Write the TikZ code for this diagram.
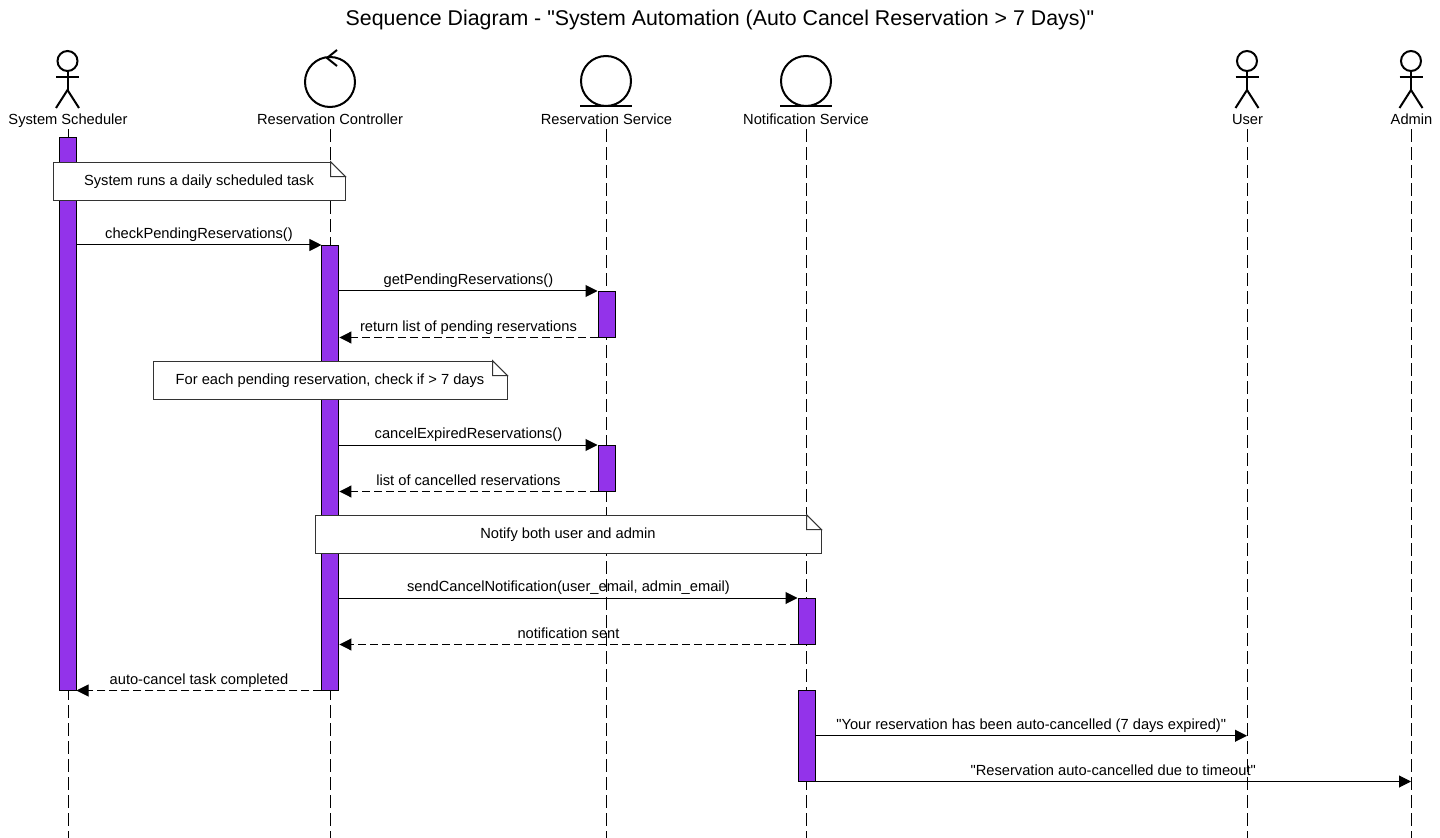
\documentclass[tikz,border=0pt]{standalone}
\usepackage{fontspec}
\setmainfont{Liberation Sans}[Ligatures=TeXOff]
\usetikzlibrary{arrows.meta}
\definecolor{activefill}{RGB}{147,51,234}
\tikzset{
	every node/.style = {font=\fontsize{11}{13}\selectfont},
	icon/.style = {line width=1.5pt},
	head/.style = {anchor=center, inner sep=0pt, text height=9.5pt, text depth=2pt, minimum height=13.5pt},
	lifeline/.style = {line width=.75pt, dash pattern=on 9.5pt off 4pt},
	active/.style = {draw, fill=activefill, line width=.75pt, minimum width=12.75pt, inner sep=0pt},
	note/.style = {draw=black!80, fill=white, line width=.75pt, inner sep=0pt, text height=8pt, text depth=2pt, minimum height=28.5pt},
	fold/.style = {draw=black!80, fill=white, line width=.75pt},
	msg/.style = {line width=.75pt, -{Triangle[length=9pt, width=9pt]}},
	back/.style = {msg, dash pattern=on 6pt off 3pt},
	say/.style = {above=4.5pt, inner sep=0pt, text depth=0pt},
	actor/.pic = {
		\draw[icon] (0,-47) circle (10);
		\draw[icon] (0,-37) -- (0,-18) (-11.5,-31) -- (11.5,-31);
		\draw[icon] (-11.5,0) -- (0,-18) -- (11.5,0);
	},
	control/.pic = {
		\draw[icon] (0,0) circle (25);
		\draw[icon] (7,-32) -- (-3,-24) -- (7,-16);
	},
	entity/.pic = {
		\draw[icon] (0,0) circle (25);
		\draw[icon] (-26,25.5) -- (26,25.5);
	}
}
\begin{document}
\begin{tikzpicture}[x = .75pt, y = -.75pt]
	\useasboundingbox (0,0) rectangle (1440,838);
	\node[text height=12pt, text depth=3pt, inner sep=0pt] (title) at (720,20) {\fontsize{16}{18}\selectfont Sequence Diagram - "System Automation (Auto Cancel Reservation > 7 Days)"};

	% participants
	\pic at (67.5,108) {actor};
	\pic at (330,82) {control};
	\pic at (606,81) {entity};
	\pic at (806,81) {entity};
	\pic at (1247,108) {actor};
	\pic at (1411,108) {actor};
	\node[head] (sched) at (68,120) {System Scheduler};
	\node[head] (ctrl) at (330,120) {Reservation Controller};
	\node[head] (res) at (606.5,120) {Reservation Service};
	\node[head] (notif) at (806,120) {Notification Service};
	\node[head] (user) at (1247.5,120) {User};
	\node[head] (admin) at (1411.5,120) {Admin};

	% lifelines
	\foreach \who/\xpos in {sched/68, ctrl/330, res/606, notif/806, user/1247, admin/1411} {
		\coordinate (\who-end) at (\xpos,838);
		\draw[lifeline] (\who.south -| \who-end) -- (\who-end);
	}

	% activations
	\node[active, minimum height=414.375pt] (schedA) at (67.5,413.75) {};
	\node[active, minimum height=333.375pt] (ctrlA) at (330.45,467.75) {};
	\node[active, minimum height=34.125pt] (resA) at (606.5,314.25) {};
	\node[active, minimum height=34.125pt] (resB) at (606.5,468.25) {};
	\node[active, minimum height=34.125pt] (notifA) at (806.5,621.25) {};
	\node[active, minimum height=67.875pt] (notifB) at (806.5,735.75) {};

	% notes
	\node[note, minimum width=219pt] (noteA) at (199,181.2) {System runs a daily scheduled task};
	\node[note, minimum width=265.5pt] (noteB) at (330,380.2) {For each pending reservation, check if > 7 days};
	\node[note, minimum width=379.5pt] (noteC) at (568,534.2) {Notify both user and admin};
	\foreach \n in {noteA, noteB, noteC} {
		\fill[white] (\n.north east) ++(-14.5,-1) rectangle ++(16,16);
		\draw[fold] (\n.north east) ++(-15,0) -- ++(15,15) -- ++(-15,0) -- cycle;
	}

	% messages
	\draw[msg] (schedA.east |- ctrlA.north) -- node[say] {checkPendingReservations()} (ctrlA.north west);
	\draw[msg] (ctrlA.east |- resA.north) -- node[say] {getPendingReservations()} (resA.north west);
	\draw[back] (resA.south west) -- node[say] {return list of pending reservations} (ctrlA.east |- resA.south);
	\draw[msg] (ctrlA.east |- resB.north) -- node[say] {cancelExpiredReservations()} (resB.north west);
	\draw[back] (resB.south west) -- node[say] {list of cancelled reservations} (ctrlA.east |- resB.south);
	\draw[msg] (ctrlA.east |- notifA.north) -- node[say] {sendCancelNotification(user\_email, admin\_email)} (notifA.north west);
	\draw[back] (notifA.south west) -- node[say] {notification sent} (ctrlA.east |- notifA.south);
	\draw[back] (ctrlA.south west) -- node[say] {auto-cancel task completed} (schedA.south east);
	\draw[msg] (notifB.east) -- node[say] {"Your reservation has been auto-cancelled (7 days expired)"} (notifB.east -| user-end);
	\draw[msg] (notifB.south east) -- node[say] {"Reservation auto-cancelled due to timeout"} (notifB.south -| admin-end);
\end{tikzpicture}
\end{document}
